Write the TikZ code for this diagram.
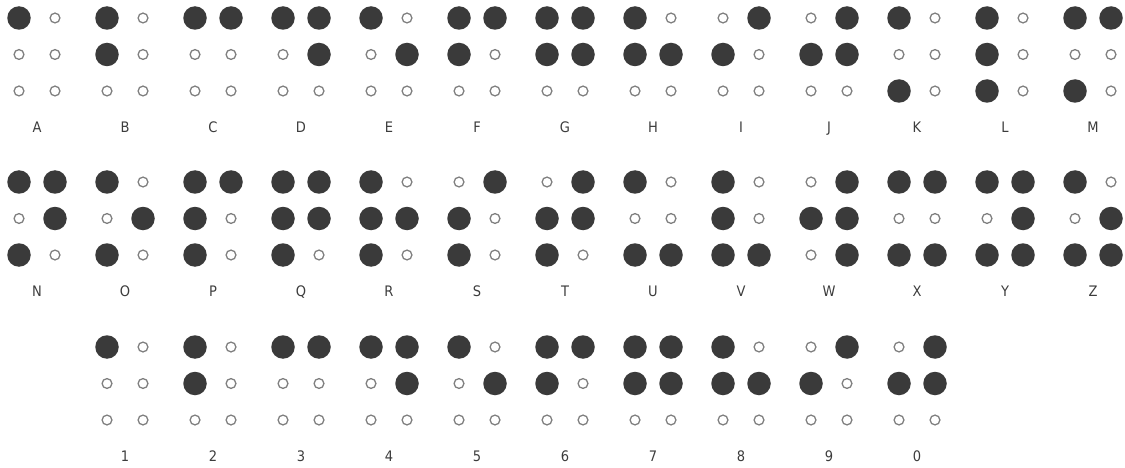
\documentclass[tikz,border=0pt]{standalone}
\usepackage{fontspec}
\setmainfont{DejaVu Sans}
\definecolor{dotgray}{HTML}{3A3A3A}
\definecolor{ringgray}{HTML}{808080}
\definecolor{labgray}{HTML}{3C3C3C}
\tikzset{
  fulldot/.style={circle, fill=dotgray, inner sep=0pt, minimum size=23.5pt},
  emptydot/.style={circle, draw=ringgray, line width=1.3pt, fill=white, inner sep=0pt, minimum size=9.8pt},
  lab/.style={text=labgray, font=\fontsize{14.5}{17}\selectfont, inner sep=0pt, anchor=base},
}
\newcommand{\brcell}[5]{%
  \foreach \b [count=\i] in {#5} {
    \pgfmathtruncatemacro{\cc}{(\i>3)}
    \pgfmathtruncatemacro{\rr}{mod(\i-1,3)}
    \ifnum\b=1
      \node[fulldot] (#1-\i) at ({#2+36*\cc}, {#3+36.5*\rr}) {};
    \else
      \node[emptydot] (#1-\i) at ({#2+36*\cc}, {#3+36.5*\rr}) {};
    \fi
  }
  \node[lab] (#1-lab) at ({#2+18}, {#3+114.5}) {\scalebox{0.9}[1]{#4}};
}
\begin{document}
\begin{tikzpicture}[x=1pt, y=-1pt]
\useasboundingbox (0,0) rectangle (1125,468);
% row 1
\brcell{A}{19+88*0}{18}{A}{1,0,0,0,0,0}
\brcell{B}{19+88*1}{18}{B}{1,1,0,0,0,0}
\brcell{C}{19+88*2}{18}{C}{1,0,0,1,0,0}
\brcell{D}{19+88*3}{18}{D}{1,0,0,1,1,0}
\brcell{E}{19+88*4}{18}{E}{1,0,0,0,1,0}
\brcell{F}{19+88*5}{18}{F}{1,1,0,1,0,0}
\brcell{G}{19+88*6}{18}{G}{1,1,0,1,1,0}
\brcell{H}{19+88*7}{18}{H}{1,1,0,0,1,0}
\brcell{I}{19+88*8}{18}{I}{0,1,0,1,0,0}
\brcell{J}{19+88*9}{18}{J}{0,1,0,1,1,0}
\brcell{K}{19+88*10}{18}{K}{1,0,1,0,0,0}
\brcell{L}{19+88*11}{18}{L}{1,1,1,0,0,0}
\brcell{M}{19+88*12}{18}{M}{1,0,1,1,0,0}
% row 2
\brcell{N}{19+88*0}{182}{N}{1,0,1,1,1,0}
\brcell{O}{19+88*1}{182}{O}{1,0,1,0,1,0}
\brcell{P}{19+88*2}{182}{P}{1,1,1,1,0,0}
\brcell{Q}{19+88*3}{182}{Q}{1,1,1,1,1,0}
\brcell{R}{19+88*4}{182}{R}{1,1,1,0,1,0}
\brcell{S}{19+88*5}{182}{S}{0,1,1,1,0,0}
\brcell{T}{19+88*6}{182}{T}{0,1,1,1,1,0}
\brcell{U}{19+88*7}{182}{U}{1,0,1,0,0,1}
\brcell{V}{19+88*8}{182}{V}{1,1,1,0,0,1}
\brcell{W}{19+88*9}{182}{W}{0,1,0,1,1,1}
\brcell{X}{19+88*10}{182}{X}{1,0,1,1,0,1}
\brcell{Y}{19+88*11}{182}{Y}{1,0,1,1,1,1}
\brcell{Z}{19+88*12}{182}{Z}{1,0,1,0,1,1}
% row 3
\brcell{n1}{19+88*1}{347}{1}{1,0,0,0,0,0}
\brcell{n2}{19+88*2}{347}{2}{1,1,0,0,0,0}
\brcell{n3}{19+88*3}{347}{3}{1,0,0,1,0,0}
\brcell{n4}{19+88*4}{347}{4}{1,0,0,1,1,0}
\brcell{n5}{19+88*5}{347}{5}{1,0,0,0,1,0}
\brcell{n6}{19+88*6}{347}{6}{1,1,0,1,0,0}
\brcell{n7}{19+88*7}{347}{7}{1,1,0,1,1,0}
\brcell{n8}{19+88*8}{347}{8}{1,1,0,0,1,0}
\brcell{n9}{19+88*9}{347}{9}{0,1,0,1,0,0}
\brcell{n0}{19+88*10}{347}{0}{0,1,0,1,1,0}
\end{tikzpicture}
\end{document}
